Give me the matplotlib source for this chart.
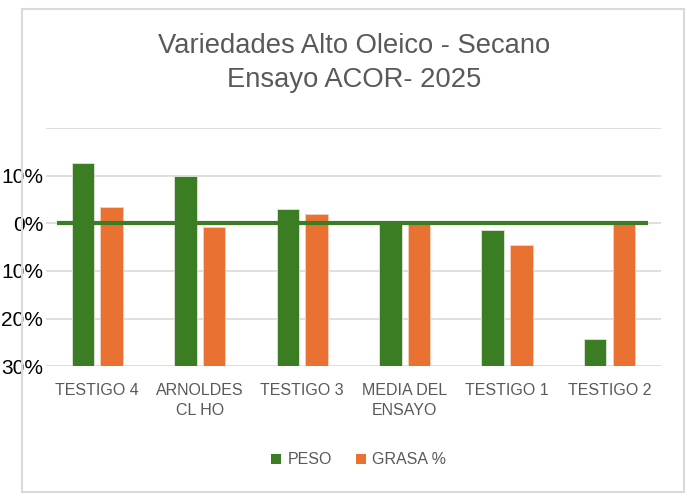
import matplotlib
matplotlib.use("Agg")
import matplotlib.pyplot as plt
from matplotlib.patches import Patch, Rectangle
import numpy as np

categories = ["TESTIGO 4", "ARNOLDES\nCL HO", "TESTIGO 3", "MEDIA DEL\nENSAYO", "TESTIGO 1", "TESTIGO 2"]
peso = [12.6, 9.9, 2.9, 0.0, -1.3, -24.3]
grasa = [3.5, -0.8, 2.0, 0.0, -4.6, 0.0]
ytick_vals = [10, 0, -10, -20, -30]
ytick_labels = ["10%", "0%", "10%", "20%", "30%"]

GREEN = "#3B7D23"
ORANGE = "#E97132"
GRAY = "#595959"
GRID = "#D9D9D9"
fam = ["Liberation Sans", "DejaVu Sans"]

fig = plt.figure(figsize=(6.93, 4.96), dpi=100)
W, H = 693, 496
ax = fig.add_axes([46 / W, 1 - 366.4 / H, (660.7 - 46) / W, (366.4 - 127.9) / H])

ymin, ymax = -30, 20
x = np.arange(len(categories))
bw = 0.22
off = 0.14
ax.bar(x - off, np.array(peso) - ymin, bottom=ymin, width=bw, color=GREEN,
       edgecolor="#dfe8da", linewidth=0.6, zorder=3)
ax.bar(x + off, np.array(grasa) - ymin, bottom=ymin, width=bw, color=ORANGE,
       edgecolor="#f6d2bd", linewidth=0.6, zorder=3)
ax.plot([-0.39, len(categories) - 1 + 0.38], [0, 0], color=GREEN, lw=3.0,
        zorder=4, solid_capstyle="butt")

ax.set_xlim(-0.5, len(categories) - 0.5)
ax.set_ylim(ymin, ymax)
for g in range(ymin, ymax + 1, 10):
    ax.axhline(g, color=GRID, lw=1.2, zorder=1)
ax.set_yticks(ytick_vals)
ax.set_yticklabels(ytick_labels, fontsize=15, color="black", family=fam)
ax.set_xticks(x)
ax.set_xticklabels(categories, fontsize=11.5, color=GRAY, family=fam,
                   linespacing=1.4)
ax.tick_params(axis="both", length=0)
ax.tick_params(axis="y", pad=2)
ax.tick_params(axis="x", pad=12)
for s in ax.spines.values():
    s.set_visible(False)

fig.text(354 / W, 1 - 63 / H, "Variedades Alto Oleico - Secano\nEnsayo ACOR- 2025",
         ha="center", va="center", fontsize=19.7, color=GRAY, family=fam,
         linespacing=1.4)

handles = [Patch(facecolor=GREEN, label="PESO"), Patch(facecolor=ORANGE, label="GRASA %")]
fig.legend(handles=handles, loc="center", bbox_to_anchor=(358.5 / W, 1 - 460 / H),
           ncol=2, frameon=False, handlelength=0.65, handleheight=0.65,
           handletextpad=0.4, columnspacing=1.5,
           prop={"family": fam, "size": 11.5}, labelcolor=GRAY)

fig.patches.append(Rectangle((22 / W, 1 - 492 / H), (684 - 22) / W, (492 - 9) / H,
                             transform=fig.transFigure, fill=False,
                             edgecolor=GRID, lw=1.5))

fig.savefig("out.png", dpi=100, facecolor="white")
